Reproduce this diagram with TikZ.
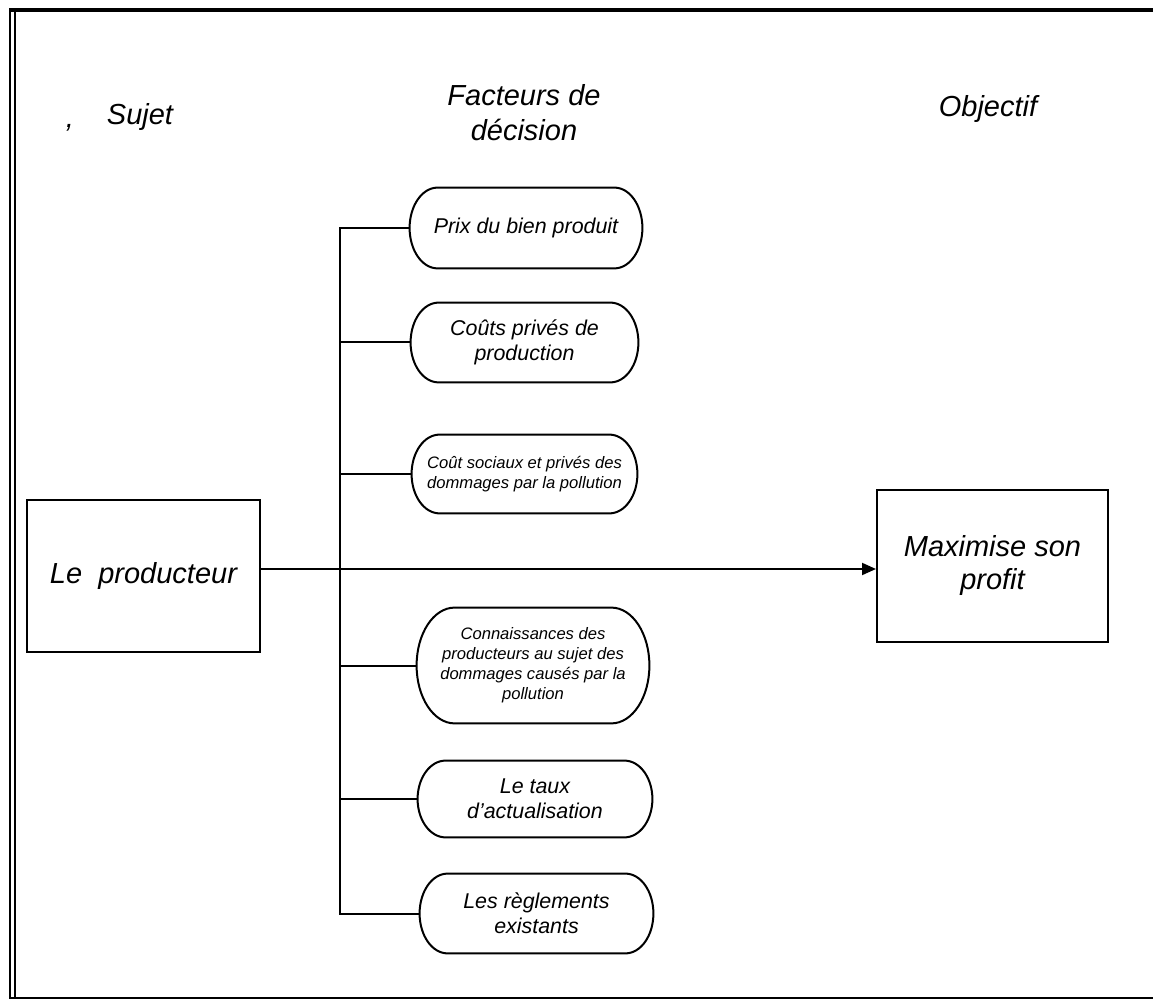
\documentclass[tikz,border=0pt]{standalone}
\usepackage{fontspec}
\setmainfont{Liberation Sans}
\usetikzlibrary{arrows.meta,calc}
\begin{document}
\begin{tikzpicture}[x=0.5pt,y=-0.5pt,
  head/.style={font=\fontsize{14.5}{17.5}\selectfont\itshape, align=center, inner sep=0pt},
  bigbox/.style={draw, line width=1pt, inner sep=0pt, align=center, font=\fontsize{14.5}{16.5}\selectfont\itshape},
  pill/.style={inner sep=0pt, align=center, font=\fontsize{10.7}{12.5}\selectfont\itshape},
  smallpill/.style={pill, font=\fontsize{8.3}{10}\selectfont\itshape},
  link/.style={line width=1pt},
  pillborder/.style={line width=1pt},
]
\useasboundingbox (0,0) rectangle (1153,1000);
% frame (right edge falls outside the scan)
\draw[line width=1.6pt] (9,10) -- (1153,10);
\draw[line width=1pt] (10,10) -- (10,998) -- (1153,998);
\draw[line width=1pt] (15,12) -- (15,998);

% headers
\node[head, anchor=base] (comma) at (70,128) {,};
\node[head, anchor=base] (sujet) at (140,125) {Sujet};
\node[head] (fact) at (524,113) {Facteurs de\\décision};
\node[head, anchor=base] (obj) at (988,117) {Objectif};

% boxes
\node[bigbox, minimum width=116.5pt, minimum height=76pt] (prod) at (143.5,576) {Le\ \ producteur};
\node[bigbox, minimum width=115.5pt, minimum height=76pt] (max) at (992.5,566) {Maximise son\\profit};

% pills
\node[pill, minimum width=116pt, minimum height=40pt] (p1) at (526,228) {Prix du bien produit};
\node[pill, minimum width=113.5pt, minimum height=39.5pt] (p2) at (524.5,342.5) {Coûts privés de\\production};
\node[smallpill, minimum width=112.5pt, minimum height=39pt] (p3) at (524.5,474) {Coût sociaux et privés des\\dommages par la pollution};
\node[smallpill, minimum width=116pt, minimum height=57.5pt] (p4) at (533,665.5) {Connaissances des\\producteurs au sujet des\\dommages causés par la\\pollution};
\node[pill, minimum width=117pt, minimum height=38pt] (p5) at (535,799) {Le taux\\d'actualisation};
\node[pill, minimum width=116.5pt, minimum height=39.5pt] (p6) at (536.5,913.5) {Les règlements\\existants};

% pill outlines with elliptic ends
\foreach \nm/\rx in {p1/14pt,p2/14pt,p3/14pt,p4/19pt,p5/14pt,p6/14pt}
  \draw[pillborder] let \p1=(\nm.north), \p2=(\nm.south), \n1={abs(\y1-\y2)/2} in
    ([xshift=\rx]\nm.north west) -- ([xshift=-\rx]\nm.north east)
    arc[start angle=90, end angle=-90, x radius=\rx, y radius=\n1]
    -- ([xshift=\rx]\nm.south west)
    arc[start angle=270, end angle=90, x radius=\rx, y radius=\n1] -- cycle;

% spine and branches
\coordinate (sp) at (340,0);
\draw[link, line cap=rect] (p1.west -| sp) -- (p6.west -| sp);
\foreach \nm in {p1,p2,p3,p4,p5,p6}
  \draw[link] (\nm.west) -- (\nm.west -| sp);

% main arrow
\coordinate (ay) at (0,569);
\draw[link, -{Triangle[length=7pt,width=6pt]}] (prod.east |- ay) -- (max.west |- ay);
\end{tikzpicture}
\end{document}
